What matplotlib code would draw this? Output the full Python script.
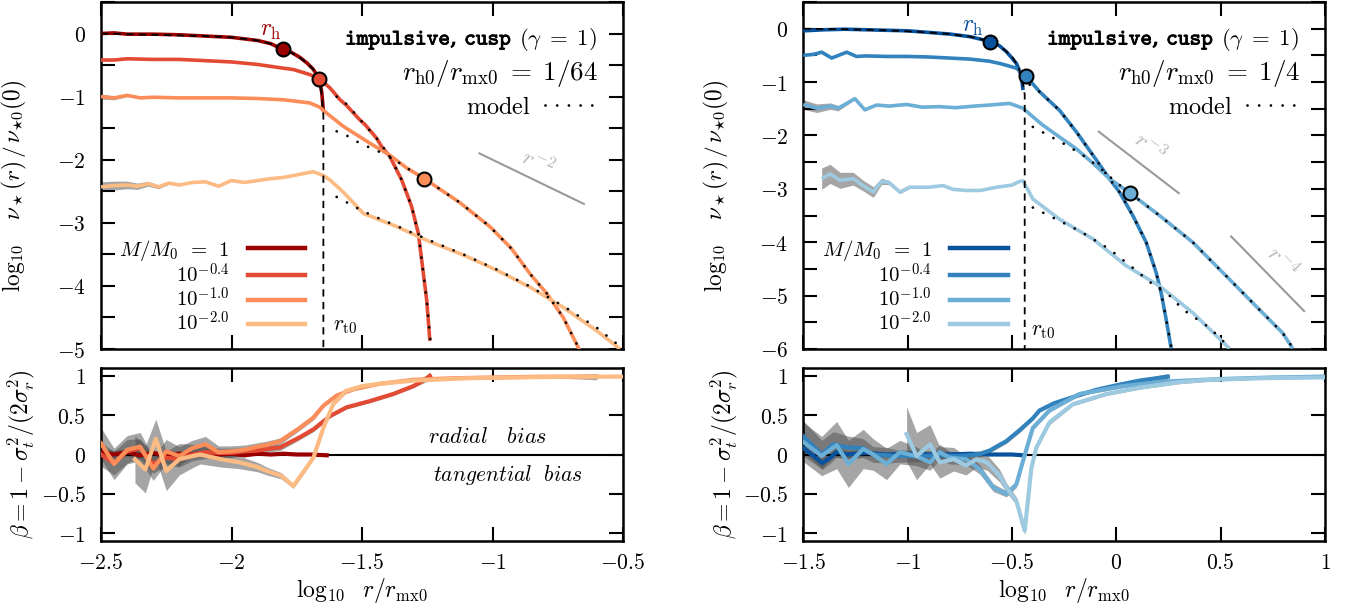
import numpy as np
import matplotlib
matplotlib.use('Agg')
import matplotlib.pyplot as plt
from matplotlib.ticker import MultipleLocator, FuncFormatter
from matplotlib.lines import Line2D
import matplotlib.patheffects as pe

plt.rcParams['mathtext.fontset'] = 'cm'
plt.rcParams['font.family'] = 'DejaVu Serif'

# ---------------- data: left panel (reds), r_h0/r_mx0 = 1/64 ----------------
mass_labels = [r'$M/M_0\;\,=\;\,1$', r'$10^{-0.4}$', r'$10^{-1.0}$', r'$10^{-2.0}$']
reds = ['#990000', '#e34a33', '#fc8d59', '#fdbb84']
blues = ['#08519c', '#3182bd', '#6baed6', '#9ecae1']

L1_x = [-2.5, -2.45, -2.4, -2.3, -2.2, -2.1, -2.0, -1.9, -1.85, -1.804, -1.77, -1.737, -1.71, -1.686, -1.663, -1.654, -1.648]
L1_y = [0.0, 0.01, -0.01, -0.01, -0.02, -0.04, -0.06, -0.11, -0.16, -0.25, -0.30, -0.38, -0.47, -0.57, -0.73, -0.94, -1.23]
L2_x = [-2.5, -2.45, -2.4, -2.3, -2.2, -2.1, -2.0, -1.9, -1.8, -1.763, -1.70, -1.663, -1.623, -1.584, -1.559, -1.508, -1.489,
        -1.444, -1.425, -1.393, -1.348, -1.31, -1.284, -1.268, -1.252, -1.24]
L2_y = [-0.42, -0.42, -0.40, -0.41, -0.41, -0.43, -0.45, -0.49, -0.55, -0.57, -0.65, -0.72, -0.86, -1.05, -1.14, -1.37, -1.44,
        -1.66, -1.79, -1.95, -2.32, -2.74, -3.17, -3.70, -4.23, -4.87]
L3_x = [-2.5, -2.45, -2.4, -2.35, -2.3, -2.2, -2.1, -2.0, -1.9, -1.8, -1.7, -1.66, -1.648, -1.572, -1.469, -1.393, -1.329,
        -1.261, -1.125, -1.01, -0.927, -0.856, -0.792, -0.729, -0.665]
L3_y = [-1.0, -1.02, -0.98, -1.02, -1.01, -1.02, -1.02, -1.02, -1.03, -1.05, -1.10, -1.17, -1.22, -1.47, -1.74, -1.93, -2.13,
        -2.30, -2.68, -3.06, -3.41, -3.81, -4.12, -4.50, -5.03]
L3_e = [0.04, 0.03, 0.02] + [0.0] * 22
L4_x = [-2.5, -2.45, -2.4, -2.36, -2.32, -2.28, -2.24, -2.2, -2.15, -2.1, -2.05, -2.0, -1.95, -1.9, -1.85, -1.8, -1.75,
        -1.687, -1.648, -1.623, -1.57, -1.495, -1.367, -1.24, -1.112, -0.984, -0.856, -0.729, -0.601, -0.511]
L4_y = [-2.43, -2.41, -2.40, -2.42, -2.38, -2.43, -2.37, -2.40, -2.36, -2.35, -2.42, -2.33, -2.36, -2.33, -2.30, -2.28, -2.24,
        -2.19, -2.25, -2.32, -2.52, -2.85, -3.06, -3.30, -3.51, -3.75, -4.02, -4.34, -4.71, -5.0]
L4_e = [0.08, 0.07, 0.06, 0.05, 0.04, 0.03, 0.02, 0.01] + [0.0] * 22

# models (dashed = initial profile truncated at r_t0; dotted = model)
L0m_x = [-2.5, -2.3, -2.1, -2.0, -1.9, -1.85, -1.8, -1.75, -1.71, -1.686, -1.665, -1.655, -1.648, -1.648]
L0m_y = [0.0, -0.02, -0.04, -0.06, -0.11, -0.16, -0.24, -0.35, -0.47, -0.57, -0.73, -0.94, -1.3, -6.0]
L2m_x = [-1.597, -1.559, -1.508, -1.444, -1.393, -1.348, -1.31, -1.284, -1.268, -1.252, -1.236]
L2m_y = [-1.0, -1.12, -1.36, -1.66, -1.95, -2.32, -2.74, -3.17, -3.70, -4.23, -4.95]
L3m_x = [-1.597, -1.552, -1.508, -1.463, -1.393, -1.329, -1.261, -1.125, -1.01, -0.927, -0.856, -0.792, -0.729, -0.67]
L3m_y = [-1.55, -1.63, -1.74, -1.82, -1.95, -2.13, -2.30, -2.68, -3.06, -3.41, -3.81, -4.12, -4.50, -4.98]
L4m_x = [-1.597, -1.552, -1.508, -1.463, -1.367, -1.24, -1.112, -0.984, -0.856, -0.729, -0.601, -0.52]
L4m_y = [-2.59, -2.69, -2.79, -2.88, -3.05, -3.28, -3.50, -3.74, -4.01, -4.32, -4.66, -4.93]

L_rh_x = [-1.804, -1.663, -1.261]
L_rh_y = [-0.25, -0.72, -2.30]
L_rt0 = -1.648
L_guide_x = [-1.05, -0.65]
L_guide_y = [-1.90, -2.70]

# beta, left
BL1_x = [-2.5, -2.45, -2.4, -2.35, -2.3, -2.25, -2.2, -2.15, -2.1, -2.05, -2.0, -1.95, -1.9, -1.85, -1.8, -1.75, -1.7, -1.635]
BL1_y = [0.03, 0.0, 0.03, -0.01, 0.02, -0.02, 0.01, 0.0, 0.02, 0.0, 0.01, -0.01, 0.01, 0.0, 0.01, 0.0, 0.0, -0.01]
BL1_e = [0.06, 0.05, 0.05, 0.04, 0.04, 0.03, 0.03, 0.03, 0.02, 0.02, 0.02, 0.02, 0.01, 0.01, 0.01, 0.01, 0.01, 0.01]
BL2_x = [-2.5, -2.45, -2.4, -2.35, -2.3, -2.25, -2.2, -2.15, -2.1, -2.05, -2.0, -1.95, -1.9, -1.865, -1.814, -1.738, -1.686,
         -1.622, -1.559, -1.469, -1.38, -1.303, -1.27, -1.24]
BL2_y = [0.0, -0.11, 0.04, 0.08, -0.12, -0.04, -0.06, 0.0, 0.03, 0.02, 0.02, 0.04, 0.05, 0.07, 0.09, 0.22, 0.32,
         0.49, 0.60, 0.68, 0.77, 0.87, 0.93, 1.0]
BL2_e = [0.15, 0.15, 0.15, 0.12, 0.12, 0.1, 0.1, 0.08, 0.08, 0.06, 0.06, 0.05, 0.05, 0.04, 0.04, 0.03, 0.03,
         0.02, 0.02, 0.02, 0.02, 0.02, 0.03, 0.05]
BL3_x = [-2.5, -2.45, -2.4, -2.35, -2.3, -2.25, -2.2, -2.15, -2.1, -2.05, -2.0, -1.95, -1.9, -1.865, -1.814, -1.738, -1.686,
         -1.648, -1.597, -1.533, -1.431, -1.303, -1.15, -1.0, -0.8, -0.6]
BL3_y = [0.14, -0.12, 0.06, 0.1, -0.18, 0.04, -0.02, 0.08, 0.13, 0.03, 0.04, 0.06, 0.10, 0.12, 0.17, 0.34, 0.47,
         0.62, 0.75, 0.83, 0.90, 0.95, 0.97, 0.98, 0.99, 0.99]
BL3_e = [0.2, 0.2, 0.18, 0.18, 0.15, 0.15, 0.12, 0.1, 0.1, 0.08, 0.07, 0.06, 0.05, 0.05, 0.04, 0.03, 0.03,
         0.02, 0.02, 0.02, 0.01, 0.01, 0.01, 0.01, 0.01, 0.04]
BL4_x = [-2.37, -2.33, -2.29, -2.25, -2.2, -2.15, -2.12, -2.04, -1.97, -1.9, -1.865, -1.81, -1.763, -1.72, -1.686, -1.648,
         -1.61, -1.56, -1.5, -1.43, -1.3, -1.1, -0.9, -0.7, -0.5]
BL4_y = [-0.06, -0.19, 0.2, -0.21, -0.06, -0.02, 0.0, -0.06, -0.10, -0.16, -0.21, -0.27, -0.40, -0.2, -0.04, 0.34,
         0.64, 0.81, 0.87, 0.90, 0.94, 0.97, 0.98, 0.99, 0.99]
BL4_e = [0.3, 0.3, 0.25, 0.25, 0.2, 0.15, 0.12, 0.1, 0.08, 0.06, 0.05, 0.04, 0.03, 0.03, 0.02, 0.02,
         0.02, 0.02, 0.01, 0.01, 0.01, 0.01, 0.01, 0.01, 0.01]

# ---------------- data: right panel (blues), r_h0/r_mx0 = 1/4 ----------------
R1_x = [-1.5, -1.4, -1.3, -1.2, -1.1, -1.0, -0.9, -0.8, -0.7, -0.603, -0.56, -0.527, -0.5, -0.479, -0.465, -0.455, -0.447]
R1_y = [-0.04, -0.02, -0.01, -0.02, -0.03, -0.04, -0.07, -0.10, -0.15, -0.24, -0.32, -0.43, -0.55, -0.65, -0.78, -0.90, -1.15]
R2_x = [-1.5, -1.45, -1.412, -1.364, -1.292, -1.245, -1.2, -1.1, -1.0, -0.9, -0.8, -0.7, -0.607, -0.55, -0.479, -0.434,
        -0.368, -0.272, -0.192, -0.112, -0.033, 0.015, 0.079, 0.143, 0.191, 0.215, 0.239, 0.263]
R2_y = [-0.50, -0.48, -0.44, -0.55, -0.44, -0.52, -0.51, -0.52, -0.52, -0.53, -0.55, -0.57, -0.61, -0.66, -0.74, -0.88,
        -1.18, -1.53, -1.93, -2.37, -2.81, -3.06, -3.50, -4.0, -4.57, -4.95, -5.45, -5.99]
R3_x = [-1.5, -1.436, -1.37, -1.333, -1.292, -1.253, -1.205, -1.149, -1.09, -1.005, -0.93, -0.85, -0.77, -0.68, -0.607,
        -0.511, -0.447, -0.40, -0.351, -0.272, -0.192, -0.112, -0.033, 0.066, 0.207, 0.366, 0.526, 0.685, 0.797, 0.845]
R3_y = [-1.42, -1.49, -1.45, -1.49, -1.40, -1.31, -1.52, -1.43, -1.45, -1.42, -1.47, -1.46, -1.48, -1.45, -1.43,
        -1.40, -1.49, -1.65, -1.81, -2.03, -2.25, -2.52, -2.81, -3.08, -3.50, -4.0, -4.63, -5.26, -5.70, -5.99]
R3_e = [0.09, 0.08, 0.06, 0.05, 0.03, 0.02] + [0.0] * 24
R4_x = [-1.412, -1.372, -1.324, -1.261, -1.213, -1.165, -1.125, -1.09, -1.037, -0.99, -0.90, -0.83, -0.782, -0.718,
        -0.65, -0.575, -0.50, -0.463, -0.447, -0.40, -0.272, -0.112, 0.047, 0.207, 0.366, 0.542]
R4_y = [-2.81, -2.72, -2.84, -2.81, -2.94, -3.06, -2.86, -2.88, -3.06, -2.97, -2.97, -2.94, -3.01, -3.03,
        -3.03, -2.97, -2.93, -2.86, -2.85, -3.19, -3.57, -3.94, -4.44, -4.82, -5.32, -5.99]
R4_e = [0.2, 0.18, 0.15, 0.12, 0.1, 0.1, 0.06, 0.04, 0.03, 0.02] + [0.0] * 16

R0m_x = [-1.5, -1.3, -1.1, -0.9, -0.8, -0.7, -0.603, -0.55, -0.5, -0.47, -0.45, -0.439, -0.439]
R0m_y = [0.0, -0.01, -0.03, -0.07, -0.10, -0.15, -0.24, -0.35, -0.52, -0.72, -0.95, -1.24, -7.0]
R2m_x = [-0.415, -0.368, -0.272, -0.192, -0.112, -0.033, 0.015, 0.079, 0.143, 0.191, 0.215, 0.239, 0.265]
R2m_y = [-1.05, -1.18, -1.53, -1.93, -2.37, -2.81, -3.06, -3.50, -4.0, -4.57, -4.95, -5.45, -6.0]
R3m_x = [-0.40, -0.32, -0.24, -0.16, -0.08, 0.0, 0.066, 0.207, 0.366, 0.526, 0.685, 0.797, 0.85]
R3m_y = [-1.84, -2.01, -2.18, -2.37, -2.60, -2.88, -3.08, -3.50, -4.0, -4.63, -5.26, -5.70, -6.0]
R4m_x = [-0.40, -0.288, -0.176, -0.033, 0.079, 0.175, 0.255, 0.319, 0.446, 0.55]
R4m_y = [-3.35, -3.57, -3.79, -4.13, -4.48, -4.79, -5.0, -5.26, -5.60, -6.0]

R_rh_x = [-0.603, -0.434, 0.066]
R_rh_y = [-0.24, -0.88, -3.08]
R_rt0 = -0.439
R_guide3_x = [-0.084, 0.299]
R_guide3_y = [-1.93, -3.08]
R_guide4_x = [0.55, 0.90]
R_guide4_y = [-3.89, -5.29]

BR1_x = [-1.5, -1.45, -1.41, -1.37, -1.34, -1.29, -1.2, -1.1, -1.0, -0.9, -0.8, -0.7, -0.6, -0.5, -0.447]
BR1_y = [0.08, -0.02, -0.11, -0.04, 0.03, 0.0, 0.02, 0.0, 0.01, 0.0, 0.0, 0.01, 0.0, 0.0, -0.01]
BR1_e = [0.1, 0.09, 0.08, 0.07, 0.06, 0.05, 0.04, 0.03, 0.03, 0.02, 0.02, 0.02, 0.01, 0.01, 0.01]
BR2_x = [-1.5, -1.412, -1.356, -1.292, -1.213, -1.165, -1.1, -1.053, -0.93, -0.85, -0.77, -0.7, -0.65, -0.607, -0.527,
         -0.463, -0.40, -0.368, -0.3, -0.208, -0.1, 0.0, 0.111, 0.247]
BR2_y = [0.23, 0.0, 0.13, 0.09, 0.08, 0.0, -0.01, -0.02, -0.02, -0.01, -0.02, -0.01, 0.01, 0.05, 0.17,
         0.31, 0.46, 0.56, 0.65, 0.73, 0.82, 0.88, 0.94, 0.99]
BR2_e = [0.2, 0.18, 0.16, 0.15, 0.12, 0.1, 0.1, 0.08, 0.07, 0.06, 0.05, 0.04, 0.04, 0.03, 0.03,
         0.03, 0.02, 0.02, 0.02, 0.02, 0.02, 0.02, 0.02, 0.04]
BR3_x = [-1.5, -1.412, -1.34, -1.284, -1.213, -1.165, -1.101, -1.037, -0.96, -0.893, -0.846, -0.80, -0.72, -0.654,
         -0.59, -0.527, -0.479, -0.447, -0.40, -0.32, -0.176, 0.031, 0.25, 0.5, 0.75, 1.0]
BR3_y = [0.16, -0.02, 0.12, -0.12, 0.07, 0.0, -0.12, 0.03, -0.02, -0.10, 0.03, -0.04, -0.06, -0.19,
         -0.42, -0.50, -0.38, -0.08, 0.34, 0.56, 0.77, 0.87, 0.93, 0.96, 0.98, 0.99]
BR3_e = [0.25, 0.25, 0.3, 0.3, 0.25, 0.2, 0.2, 0.15, 0.12, 0.1, 0.1, 0.08, 0.07, 0.06,
         0.05, 0.04, 0.04, 0.03, 0.03, 0.02, 0.02, 0.02, 0.02, 0.02, 0.01, 0.01]
BR4_x = [-1.005, -0.957, -0.893, -0.846, -0.78, -0.72, -0.67, -0.62, -0.559, -0.527, -0.479, -0.439, -0.407, -0.383,
         -0.32, -0.208, -0.048, 0.111, 0.3, 0.446, 0.7, 1.0]
BR4_y = [0.26, -0.02, 0.13, -0.10, -0.06, -0.14, -0.06, -0.10, -0.27, -0.42, -0.59, -0.97, -0.17, 0.09,
         0.41, 0.64, 0.77, 0.85, 0.92, 0.95, 0.97, 0.98]
BR4_e = [0.35, 0.3, 0.25, 0.2, 0.15, 0.12, 0.1, 0.1, 0.08, 0.06, 0.05, 0.05, 0.04, 0.03,
         0.03, 0.02, 0.02, 0.02, 0.02, 0.02, 0.01, 0.01]

# ---------------- figure ----------------
FS = 15.5
fig = plt.figure(figsize=(13.48, 6.09), dpi=100)
W, H = 1348.0, 609.0

def ax_rect(x0, x1, y0, y1):
    return [x0 / W, 1 - y1 / H, (x1 - x0) / W, (y1 - y0) / H]

axTL = fig.add_axes(ax_rect(101, 623, 2, 349))
axBL = fig.add_axes(ax_rect(101, 623, 368, 541))
axTR = fig.add_axes(ax_rect(803.3, 1325, 2, 349))
axBR = fig.add_axes(ax_rect(803.3, 1325, 368, 541))

fmt = FuncFormatter(lambda v, p: r'$%g$' % (0 if abs(v) < 1e-9 else v))

def style(ax, xlim, ylim, ymajor, yminor, xlabels):
    ax.set_xlim(*xlim)
    ax.set_ylim(*ylim)
    ax.xaxis.set_major_locator(MultipleLocator(0.5))
    ax.yaxis.set_major_locator(MultipleLocator(ymajor))
    if yminor:
        ax.yaxis.set_minor_locator(MultipleLocator(yminor))
    ax.xaxis.set_major_formatter(fmt)
    ax.yaxis.set_major_formatter(fmt)
    ax.tick_params(which='both', direction='in', top=True, right=True, length=10, width=1.5,
                   labelsize=FS)
    ax.tick_params(axis='y', pad=11)
    ax.tick_params(axis='x', pad=8)
    if not xlabels:
        ax.tick_params(axis='x', labelbottom=False)
    for s in ax.spines.values():
        s.set_linewidth(1.8)

style(axTL, (-2.5, -0.5), (-5, 0.5), 1, 0.5, False)
style(axBL, (-2.5, -0.5), (-1.1, 1.1), 0.5, None, True)
style(axTR, (-1.5, 1.0), (-6, 0.5), 1, 0.5, False)
style(axBR, (-1.5, 1.0), (-1.1, 1.1), 0.5, None, True)

LW = 2.6
band_kw = dict(color='0.3', alpha=0.5, lw=0, zorder=1)

def draw_profile(ax, x, y, c, e=None):
    x = np.asarray(x); y = np.asarray(y)
    if e is not None:
        e = np.asarray(e)
        ax.fill_between(x, y - e, y + e, **band_kw)
    ax.plot(x, y, color=c, lw=LW, zorder=3, solid_capstyle='butt')

def draw_model(ax, x, y):
    ax.plot(x, y, color='k', lw=2.0, ls=(0, (0.01, 4.2)), dash_capstyle='round', zorder=4)

# ---- left top ----
draw_profile(axTL, L1_x, L1_y, reds[0])
draw_profile(axTL, L2_x, L2_y, reds[1])
draw_profile(axTL, L3_x, L3_y, reds[2], L3_e)
draw_profile(axTL, L4_x, L4_y, reds[3], L4_e)
axTL.plot(L0m_x, L0m_y, color='k', lw=1.3, ls=(0, (4, 3)), zorder=4)
draw_model(axTL, L2m_x, L2m_y)
draw_model(axTL, L3m_x, L3m_y)
draw_model(axTL, L4m_x, L4m_y)
for i in range(3):
    axTL.plot(L_rh_x[i], L_rh_y[i], 'o', ms=10, mfc=reds[i], mec='k', mew=1.5, zorder=6)

# ---- right top ----
draw_profile(axTR, R1_x, R1_y, blues[0])
draw_profile(axTR, R2_x, R2_y, blues[1])
draw_profile(axTR, R3_x, R3_y, blues[2], R3_e)
draw_profile(axTR, R4_x, R4_y, blues[3], R4_e)
axTR.plot(R0m_x, R0m_y, color='k', lw=1.3, ls=(0, (4, 3)), zorder=4)
draw_model(axTR, R2m_x, R2m_y)
draw_model(axTR, R3m_x, R3m_y)
draw_model(axTR, R4m_x, R4m_y)
for i in range(3):
    axTR.plot(R_rh_x[i], R_rh_y[i], 'o', ms=10, mfc=blues[i], mec='k', mew=1.5, zorder=6)

# ---- beta panels ----
for ax, sets, cols in [
    (axBL, [(BL1_x, BL1_y, BL1_e), (BL2_x, BL2_y, BL2_e), (BL3_x, BL3_y, BL3_e), (BL4_x, BL4_y, BL4_e)], reds),
    (axBR, [(BR1_x, BR1_y, BR1_e), (BR2_x, BR2_y, BR2_e), (BR3_x, BR3_y, BR3_e), (BR4_x, BR4_y, BR4_e)], blues)]:
    for (x, y, e) in sets:
        x = np.asarray(x); y = np.asarray(y); e = np.asarray(e)
        ax.fill_between(x, y - e, y + e, **band_kw)
    for i in [0, 1, 2, 3]:
        x, y, e = sets[i]
        ax.plot(x, y, color=cols[i], lw=LW + 0.4, zorder=3)
    ax.axhline(0, color='k', lw=1.5, zorder=2)

axBL.text(0.74, 0.60, r'$radial\ \ \ bias$', transform=axBL.transAxes, fontsize=FS + 0.5, ha='center', va='center')
axBL.text(0.78, 0.38, r'$tangential\ \ bias$', transform=axBL.transAxes, fontsize=FS, ha='center', va='center')

# ---- guides ----
def guide(ax, x, y, label, dx=0.0, dy=0.0):
    ax.plot(x, y, color='0.6', lw=1.5, zorder=2)
    p = ax.transData.transform(np.column_stack([x, y]))
    ang = np.degrees(np.arctan2(p[1, 1] - p[0, 1], p[1, 0] - p[0, 0]))
    xm = 0.5 * (x[0] + x[1]) + dx
    ym = 0.5 * (y[0] + y[1]) + dy
    ax.text(xm, ym, label, rotation=ang, rotation_mode='anchor', color='0.72', fontsize=FS + 1,
            ha='center', va='center')

guide(axTL, L_guide_x, L_guide_y, r'$r^{-2}$', dx=0.02, dy=0.24)
guide(axTR, R_guide3_x, R_guide3_y, r'$r^{-3}$', dx=0.05, dy=0.28)
guide(axTR, R_guide4_x, R_guide4_y, r'$r^{-4}$', dx=0.07, dy=0.22)

# ---- annotations ----
axTL.text(L_rh_x[0] - 0.045, L_rh_y[0] + 0.3, r'$r_{\rm h}$', color=reds[0], fontsize=FS + 1.5, ha='center', va='center')
axTR.text(R_rh_x[0] - 0.085, R_rh_y[0] + 0.29, r'$r_{\rm h}$', color=blues[0], fontsize=FS + 1.5, ha='center', va='center')
axTL.text(L_rt0 + 0.035, -4.62, r'$r_{\rm t0}$', fontsize=FS, ha='left', va='center')
axTR.text(R_rt0 + 0.03, -5.64, r'$r_{\rm t0}$', fontsize=FS, ha='left', va='center')

renderer = fig.canvas.get_renderer()
stroke = [pe.withStroke(linewidth=0.6, foreground='k')]
TFS = 16.0
for ax, ratio in [(axTL, '1/64'), (axTR, '1/4')]:
    tg = ax.text(0.95, 0.877, r'$(\gamma\;=\;1)$', transform=ax.transAxes,
                 fontsize=TFS + 0.5, ha='right', va='baseline')
    bb = tg.get_window_extent(renderer=renderer)
    xa = ax.transAxes.inverted().transform((bb.x0 - 7, bb.y0))[0]
    ax.text(xa, 0.877, r'$\mathtt{impulsive}$, $\mathtt{cusp}$', transform=ax.transAxes,
            fontsize=TFS, ha='right', va='baseline', path_effects=stroke)
    ax.text(0.952, 0.795, r'$r_{\rm h0}/r_{\rm mx0}\;=\;%s$' % ratio, transform=ax.transAxes,
            fontsize=19.5, ha='right', va='center')
    mh = Line2D([], [], color='k', lw=2.0, ls=(0, (0.01, 4.2)), dash_capstyle='round')
    leg2 = ax.legend([mh], [r'$\mathrm{model}$'], loc='center right', bbox_to_anchor=(0.942, 0.697),
                     frameon=False, markerfirst=False, handlelength=1.95, handletextpad=0.6,
                     borderpad=0, borderaxespad=0, fontsize=17.5)
    ax.add_artist(leg2)

for ax, cols in [(axTL, reds), (axTR, blues)]:
    hs = [Line2D([], [], color=c, lw=LW + 0.6) for c in cols]
    ax.legend(hs, mass_labels, loc='lower left', bbox_to_anchor=(0.035, 0.04), frameon=False,
              markerfirst=False, handlelength=2.75, handletextpad=0.9, labelspacing=0.0,
              borderpad=0, borderaxespad=0, fontsize=15)

ylab_top = r'$\log_{10}\quad \nu_\star(r)\,/\,\nu_{\star 0}(0)$'
ylab_bot = r'$\beta = 1 - \sigma_t^2/(2\sigma_r^2)$'
xlab = r'$\log_{10}\ \ r/r_{\rm mx0}$'
for ax in (axTL, axTR):
    ax.set_ylabel(ylab_top, fontsize=16.8)
    ax.yaxis.set_label_coords(-0.138, 0.47)
for ax in (axBL, axBR):
    ax.set_ylabel(ylab_bot, fontsize=17)
    ax.yaxis.set_label_coords(-0.122, 0.5)
    ax.set_xlabel(xlab, fontsize=17)
    ax.xaxis.set_label_coords(0.5, -0.2)
    ax.xaxis.label.set_va('top')

fig.savefig('out.png', dpi=100)
